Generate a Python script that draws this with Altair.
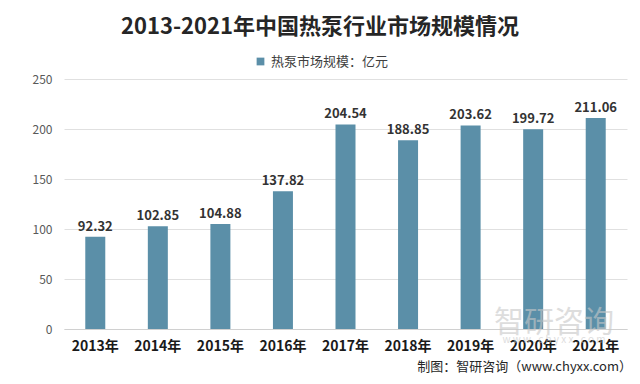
import altair as alt
import pandas as pd

years = ["2013年", "2014年", "2015年", "2016年", "2017年", "2018年", "2019年", "2020年", "2021年"]
values = [92.32, 102.85, 104.88, 137.82, 204.54, 188.85, 203.62, 199.72, 211.06]
series_name = "热泵市场规模：亿元"
title_text = "2013-2021年中国热泵行业市场规模情况"
source_text = "制图：智研咨询（www.chyxx.com）"
y_ticks = [0, 50, 100, 150, 200, 250]

FONT = "Noto Sans CJK SC"
BAR = "#5b8fa8"

df = pd.DataFrame({"year": years, "value": values, "series": [series_name] * len(years)})

x_enc = alt.X("year:N", sort=years, title=None,
              scale=alt.Scale(paddingInner=0.6, paddingOuter=0.3),
              axis=alt.Axis(labelAngle=0, ticks=False, labelPadding=10, labelFont=FONT,
                            labelFontSize=14, labelFontWeight="bold", labelColor="#1a1a1a",
                            domainColor="#d0d0d0", grid=False))
y_enc = alt.Y("value:Q", title=None, scale=alt.Scale(domain=[0, 250], nice=False),
              axis=alt.Axis(values=y_ticks, domain=False, ticks=False, labelPadding=12,
                            labelFont=FONT, labelFontSize=12, labelColor="#595959",
                            gridColor="#e0e0e0"))

base = alt.Chart(df)
bars = base.mark_bar(size=20).encode(
    x=x_enc, y=y_enc,
    color=alt.Color("series:N", scale=alt.Scale(range=[BAR]),
                    legend=alt.Legend(orient="none", legendX=190, legendY=-24, title=None,
                                      symbolType="square", symbolSize=60, symbolStrokeWidth=0,
                                      labelFont=FONT, labelFontSize=13, labelColor="#404040",
                                      direction="horizontal")))
labels = base.mark_text(dy=-10, font=FONT, fontSize=13, fontWeight="bold", color="#333333").encode(
    x=alt.X("year:N", sort=years), y="value:Q", text=alt.Text("value:Q", format=".2f"))

title = alt.Chart(pd.DataFrame({"t": [title_text]})).mark_text(
    font=FONT, fontSize=22, fontWeight="bold", color="#262626", baseline="middle", align="center"
).encode(x=alt.value(256), y=alt.value(-52), text="t:N")

source = alt.Chart(pd.DataFrame({"t": [source_text]})).mark_text(
    font=FONT, fontSize=13, color="#262626", baseline="middle", align="right"
).encode(x=alt.value(568), y=alt.value(288), text="t:N")

wm1 = alt.Chart(pd.DataFrame({"t": ["智研咨询"]})).mark_text(
    font=FONT, fontSize=30, color="#c8c8c8", opacity=0.6, baseline="middle", align="center"
).encode(x=alt.value(490), y=alt.value(244), text="t:N")
wm2 = alt.Chart(pd.DataFrame({"t": ["w w w . c h y x x . c o m"]})).mark_text(
    font=FONT, fontSize=10, color="#c8c8c8", opacity=0.6, baseline="middle", align="center"
).encode(x=alt.value(490), y=alt.value(261), text="t:N")

chart = alt.layer(bars, wm1, wm2, labels, title, source).properties(
    width=563, height=250,
    autosize=alt.AutoSizeParams(type="none"),
    padding={"left": 56, "top": 71, "right": 5, "bottom": 47},
).configure_view(stroke=None)

chart.save("out.html", embed_options={"renderer": "svg", "actions": False})
